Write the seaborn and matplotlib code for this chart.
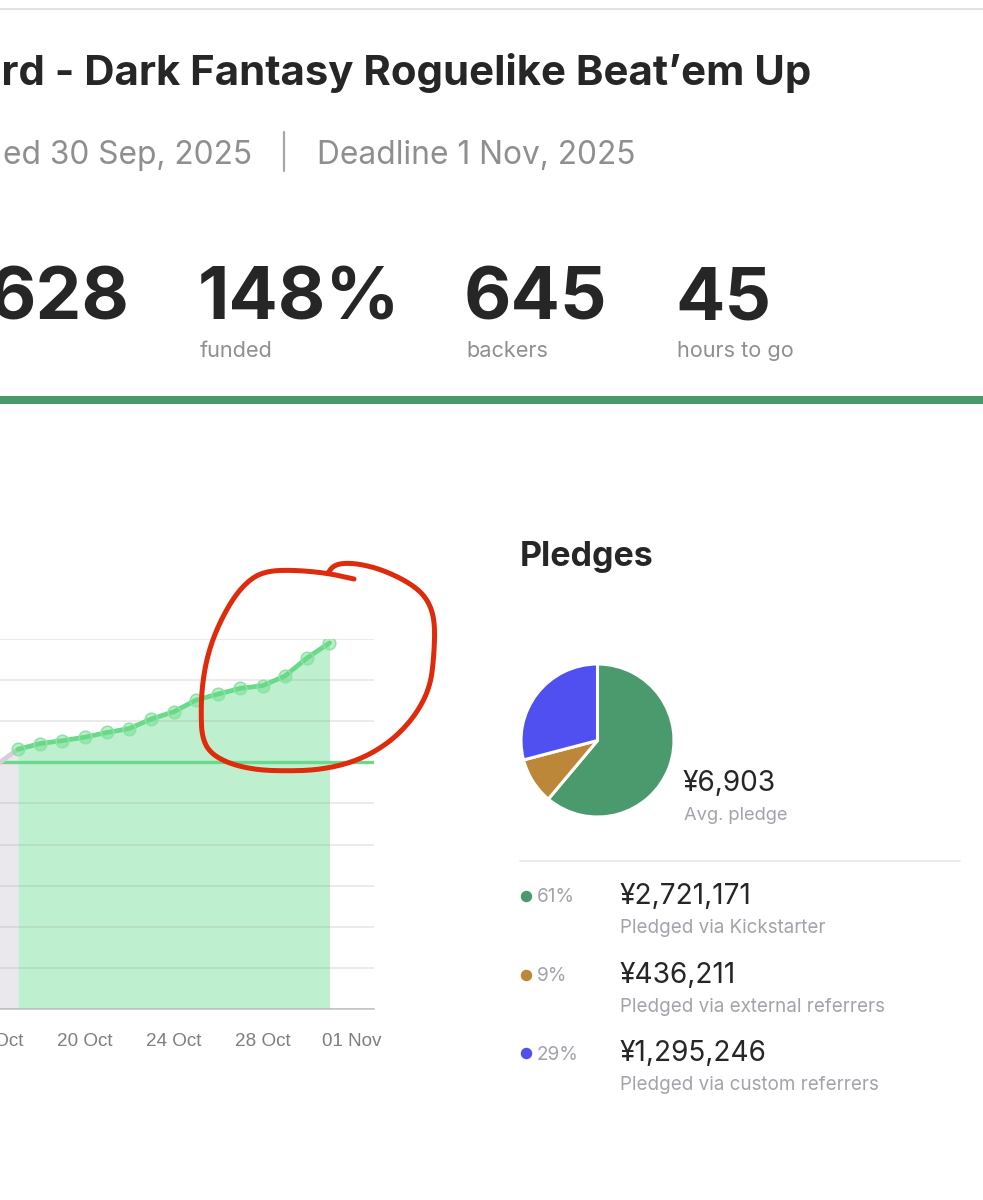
import matplotlib

matplotlib.use("Agg")  # Non-interactive backend

import matplotlib.dates as mdates
import matplotlib.pyplot as plt
import numpy as np
import pandas as pd
import seaborn as sns

W, H = 983, 1200
DPI = 100

# funded % per day
dates_before = ["2025-10-15", "2025-10-16", "2025-10-17"]
funded_before = [92.0, 98.8, 105.3]
dates_after = pd.date_range("2025-10-17", "2025-10-31").strftime("%Y-%m-%d").tolist()
funded_after = [105.3, 107.6, 108.8, 110.2, 112.1, 113.7, 117.6, 120.5,
                125.2, 127.7, 130.0, 131.1, 135.0, 142.4, 148.4]
goal = 100
tick_dates = ["2025-10-16", "2025-10-20", "2025-10-24", "2025-10-28", "2025-11-01"]

# pledges
pledge_values = [2721171, 436211, 1295246]
pledge_colors = ["#4B9A6E", "#BC8738", "#5050F0"]
pledge_pct = ["61%", "9%", "29%"]
pledge_amounts = ["¥2,721,171", "¥436,211", "¥1,295,246"]
pledge_names = ["Pledged via Kickstarter", "Pledged via external referrers", "Pledged via custom referrers"]

stat_numbers = ["148%", "645", "45"]
stat_labels = ["funded", "backers", "hours to go"]
stat_left = [198, 464, 675]

# the red hand drawn ring, in pixels
ring = np.array([
    (354, 579), (327, 573), (293, 570), (267, 571), (250, 579), (233, 598), (217, 628),
    (207, 657), (202, 687), (201, 713), (202, 737), (210, 753), (230, 764), (257, 770),
    (287, 771), (317, 770), (347, 764), (373, 753), (397, 736), (417, 713), (430, 687),
    (434, 657), (435, 620), (427, 598), (410, 583), (383, 570), (360, 564), (343, 563),
    (333, 566), (328, 573),
], dtype=float)

sns.set_theme(style="white")
plt.rcParams["font.family"] = ["Inter", "DejaVu Sans"]

fig = plt.figure(figsize=(W / DPI, H / DPI), dpi=DPI, facecolor="white")


def px_axes(left, top, right, bottom):
    return fig.add_axes([left / W, 1 - bottom / H, (right - left) / W, (bottom - top) / H])


# chart: runs off the left edge of the page
ax = px_axes(-60, 639, 374, 1009)
df_before = pd.DataFrame({"date": pd.to_datetime(dates_before), "funded": funded_before})
df_after = pd.DataFrame({"date": pd.to_datetime(dates_after), "funded": funded_after})

ax.fill_between(df_before["date"], df_before["funded"], color="#EAE8EC", lw=0, zorder=1)
ax.fill_between(df_after["date"], df_after["funded"], color="#BEF0CF", lw=0, zorder=1)
ax.set_yticks(np.arange(0, 151, 100 / 6))
ax.grid(True, axis="y", color="#8A8A8A", alpha=0.22, lw=1.1, zorder=2)
ax.set_axisbelow(False)
ax.axhline(goal, color="#6BD98B", lw=2.4, zorder=3)

sns.lineplot(data=df_before, x="date", y="funded", color="#D4CFD8", lw=3.4, ax=ax, zorder=4)
sns.lineplot(data=df_after, x="date", y="funded", color="#68DA88", lw=3.4, ax=ax, zorder=5,
             marker="o", markersize=9, markerfacecolor=(0.42, 0.85, 0.54, 0.45),
             markeredgecolor="#8CE3A4", markeredgewidth=1.1)

ax.set_xlim(pd.Timestamp("2025-10-13 12:00"), pd.Timestamp("2025-11-02"))
ax.set_ylim(0, 150)
ax.set_xlabel("")
ax.set_ylabel("")
ax.set_xticks(pd.to_datetime(tick_dates))
ax.xaxis.set_major_formatter(mdates.DateFormatter("%d %b"))
ax.tick_params(axis="x", length=0, pad=17, labelsize=13.6, labelcolor="#7F7F7F")
for label in ax.get_xticklabels():
    label.set_fontfamily("Liberation Sans")
ax.tick_params(axis="y", left=False, labelleft=False)
for side in ["top", "left", "right"]:
    ax.spines[side].set_visible(False)
ax.spines["bottom"].set_color("#C8C8C8")
ax.spines["bottom"].set_linewidth(1.2)
ax.patch.set_alpha(0)

# pie
pie_ax = px_axes(521, 664, 674, 817)
pie_ax.pie(pledge_values, colors=pledge_colors, startangle=90, counterclock=False,
           radius=1.0, wedgeprops={"edgecolor": "white", "linewidth": 2.2})
pie_ax.set_xlim(-1, 1)
pie_ax.set_ylim(-1, 1)

# page overlay in pixel coordinates
page = fig.add_axes([0, 0, 1, 1], zorder=10)
page.set_xlim(0, W)
page.set_ylim(H, 0)
page.axis("off")

DARK = "#262626"
GREY = "#8F8F8F"
LIGHT = "#A3A3AB"


def put(x, y, s, px, color=DARK, weight="normal", ha="left"):
    page.text(x, y, s, fontsize=px * 72 / DPI, color=color, fontweight=weight, ha=ha, va="baseline")


page.plot([0, W], [9, 9], color="#E2E2E2", lw=1.5)
put(811, 85, "ard - Dark Fantasy Roguelike Beat’em Up", 41.9, weight="bold", ha="right")
put(252, 164, "ed 30 Sep, 2025", 31.7, color=GREY, ha="right")
page.plot([284, 284], [132, 171], color="#A8A8A8", lw=1.6)
put(317, 164, "Deadline 1 Nov, 2025", 31.7, color=GREY)

put(130, 320, "628", 73, weight="bold", ha="right")
for x, num, lab in zip(stat_left, stat_numbers, stat_labels):
    put(x, 320, num, 73, weight="bold")
    put(x + 2, 357, lab, 21.7, color=GREY)
page.fill_between([0, W], 396, 404, color="#4B9A6E", lw=0)

put(520, 566, "Pledges", 34, weight="bold")
put(683, 791, "¥6,903", 28)
put(684, 820, "Avg. pledge", 18.4, color=LIGHT)
page.plot([520, 960], [861, 861], color="#E8E8E8", lw=1.2)

for i, (col, pct, amount, name) in enumerate(zip(pledge_colors, pledge_pct, pledge_amounts, pledge_names)):
    row = 896 + i * 78.5
    page.scatter([525.5], [row], s=68, color=col, lw=0)
    put(537, row + 6.5, pct, 19, color=LIGHT)
    put(620, row + 8, amount, 28)
    put(620, row + 37, name, 18.8, color=LIGHT)

# smooth the ring a little (corner cutting), keeping its two ends
pts = ring
for _ in range(3):
    q = 0.75 * pts[:-1] + 0.25 * pts[1:]
    r = 0.25 * pts[:-1] + 0.75 * pts[1:]
    pts = np.vstack([ring[0], np.column_stack([q, r]).reshape(-1, 2), ring[-1]])
page.plot(pts[:, 0], pts[:, 1], color="#E02A0C", lw=3.6, solid_capstyle="round", solid_joinstyle="round")

fig.savefig("out.png", dpi=DPI, facecolor="white")
plt.close(fig)
